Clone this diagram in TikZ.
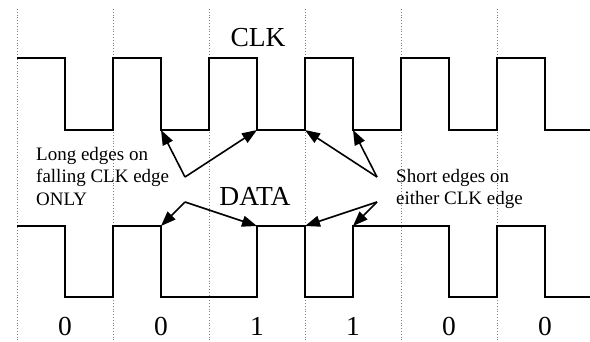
\documentclass[tikz,border=0pt]{standalone}
\usepackage{fontspec}
\setmainfont{Liberation Serif}
\usetikzlibrary{arrows.meta}
\tikzset{
  wave/.style={line width=2pt, line join=miter},
  grid/.style={gray, dotted, line width=0.8pt},
  callout/.style={line width=1.6pt, -{Triangle[length=15pt,width=11pt]}},
  big/.style={font=\fontsize{27.5}{30}\selectfont, inner sep=0pt},
  note/.style={font=\fontsize{19}{22.5}\selectfont, align=left, inner sep=0pt, anchor=west}
}
\begin{document}
\begin{tikzpicture}[x=1pt,y=-1pt]
\useasboundingbox (0,0) rectangle (590,341);
% grid
\foreach \x in {17,113,209,305,401,497} \draw[grid] (\x,9) -- (\x,341);
% CLK waveform
\draw[wave] (17,58) -- (65,58) -- (65,130) -- (113,130) -- (113,58) -- (161,58) -- (161,130) -- (209,130) -- (209,58) -- (257,58) -- (257,130) -- (305,130) -- (305,58) -- (353,58) -- (353,130) -- (401,130) -- (401,58) -- (449,58) -- (449,130) -- (497,130) -- (497,58) -- (545,58) -- (545,130) -- (590,130);
% DATA waveform
\draw[wave] (17,226) -- (65,226) -- (65,297) -- (113,297) -- (113,226) -- (161,226) -- (161,297) -- (257,297) -- (257,226) -- (305,226) -- (305,297) -- (353,297) -- (353,226) -- (449,226) -- (449,297) -- (497,297) -- (497,226) -- (545,226) -- (545,297) -- (590,297);
% labels
\node[big] (clk) at (258,38) {CLK};
\node[big] (data) at (255,196) {DATA};
\foreach \x/\b [count=\i] in {65/0,161/0,257/1,353/1,449/0,545/0}
  \node[big] (bit\i) at (\x,326) {\b};
\node[note] (long) at (36,176) {Long edges on\\falling CLK edge\\ONLY};
\node[note] (short) at (396,189) {Short edges on\\either CLK edge};
% arrow targets
\coordinate (c1) at (161,130);
\coordinate (c2) at (257,130);
\coordinate (d1) at (161,226);
\coordinate (d2) at (257,226);
\coordinate (c3) at (305,130);
\coordinate (c4) at (353,130);
\coordinate (d3) at (305,226);
\coordinate (d4) at (353,226);
\coordinate (la) at (185,177);
\coordinate (lb) at (185,202);
\coordinate (sa) at (377,177);
\coordinate (sb) at (377,202);
\draw[callout] (la) -- (c1);
\draw[callout] (la) -- (c2);
\draw[callout] (lb) -- (d1);
\draw[callout] (lb) -- (d2);
\draw[callout] (sa) -- (c3);
\draw[callout] (sa) -- (c4);
\draw[callout] (sb) -- (d3);
\draw[callout] (sb) -- (d4);
\end{tikzpicture}
\end{document}
